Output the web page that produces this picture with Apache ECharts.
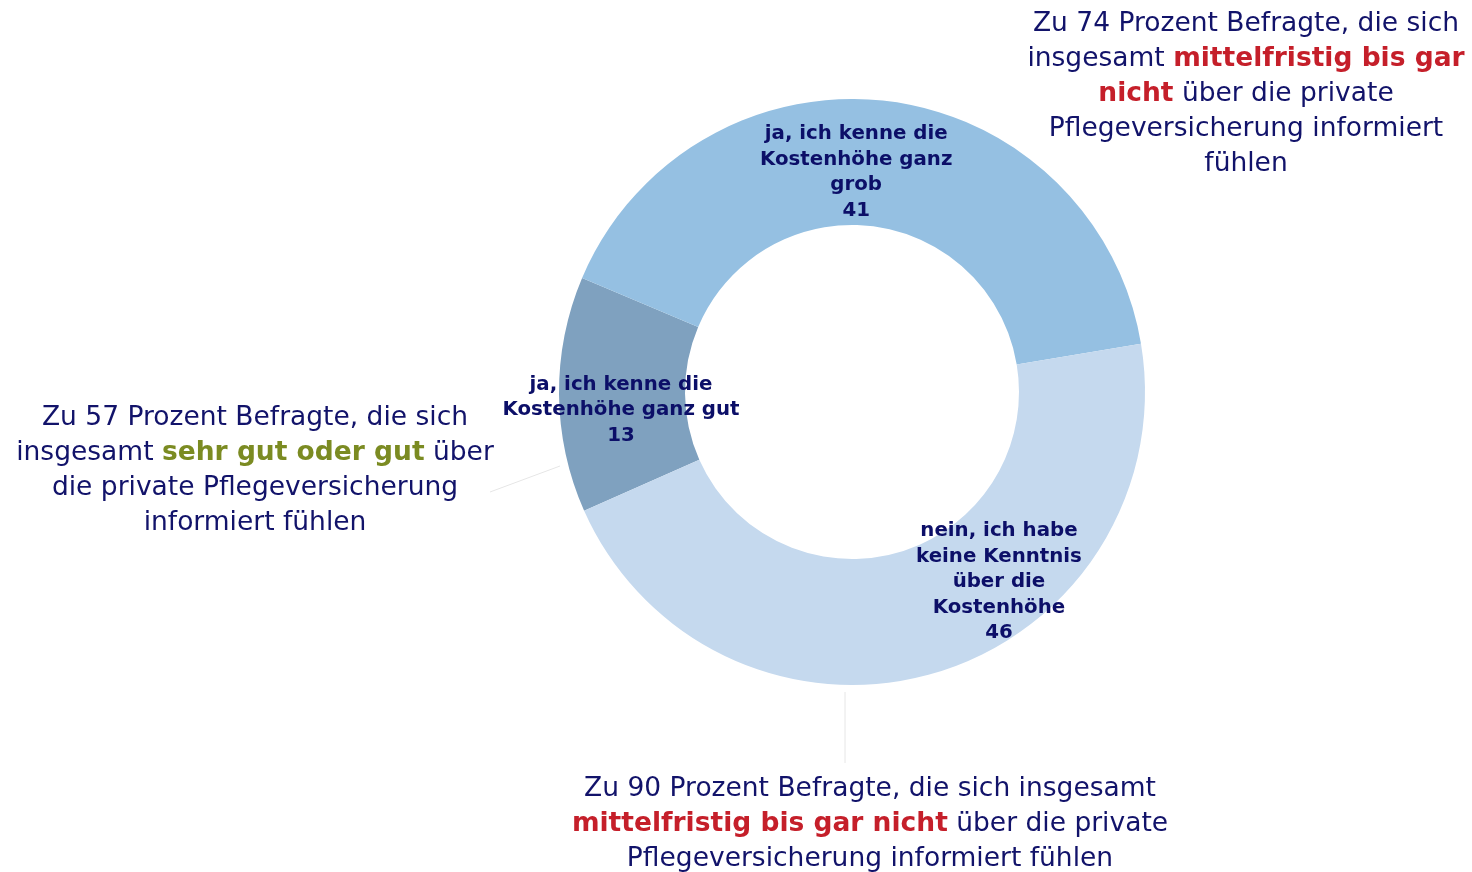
<!DOCTYPE html>
<html>
<head>
<meta charset="utf-8">
<script src="https://cdn.jsdelivr.net/npm/echarts@6/dist/echarts.min.js"></script>
<style>
  html, body { margin: 0; padding: 0; background: #fff; }
  #chart { width: 1472px; height: 872px; }
</style>
</head>
<body>
<div id="chart"></div>
<script>
// data
const categories = [
  "ja, ich kenne die\nKostenhöhe ganz gut",
  "ja, ich kenne die\nKostenhöhe ganz\ngrob",
  "nein, ich habe\nkeine Kenntnis\nüber die\nKostenhöhe"
];
const values = [13, 41, 46];
const colors = ["#7fa1bf", "#95c0e2", "#c5d9ee"];
// label nudges away from the ring middle
const labelShift = [[2, 16], [-23, 12], [80, -33]];

const navy = "#12136a";
const font = "DejaVu Sans";

var chart = echarts.init(document.getElementById("chart"));

function note(x, y, text) {
  let base = { fontFamily: font, fontSize: 26.5, lineHeight: 35 };
  let rich = {
    n: Object.assign({ fill: navy }, base),
    r: Object.assign({ fill: "#c51f2a", fontWeight: "bold" }, base),
    g: Object.assign({ fill: "#7b8b22", fontWeight: "bold" }, base)
  };
  return {
    type: "text",
    x: x,
    y: y,
    style: {
      text: text,
      rich: rich,
      fill: navy,
      align: "center",
      verticalAlign: "top"
    }
  };
}

var option = {
  animation: false,
  series: [
    {
      type: "pie",
      center: [852, 392],
      radius: [167, 293],
      startAngle: 203.9,
      clockwise: true,
      silent: true,
      data: values.map((v, i) => ({
        name: categories[i],
        value: v,
        itemStyle: { color: colors[i] }
      })),
      label: {
        position: "inside",
        formatter: "{b}\n{c}",
        fontFamily: font,
        fontWeight: "bold",
        fontSize: 19.8,
        lineHeight: 25.5,
        color: "#0c0f68",
        align: "center"
      },
      labelLine: { show: false },
      labelLayout: function (params) {
        let s = labelShift[params.dataIndex];
        return { dx: s[0], dy: s[1] };
      }
    }
  ],
  graphic: [
    { type: "line", shape: { x1: 490, y1: 492, x2: 560, y2: 466 }, style: { stroke: "#e6e6e6", lineWidth: 1 } },
    { type: "line", shape: { x1: 845, y1: 692, x2: 845, y2: 763 }, style: { stroke: "#e6e6e6", lineWidth: 1 } },
    note(1246, 7,
      "{n|Zu 74 Prozent Befragte, die sich}\n" +
      "{n|insgesamt }{r|mittelfristig bis gar}\n" +
      "{r|nicht}{n| über die private}\n" +
      "{n|Pflegeversicherung informiert}\n" +
      "{n|fühlen}"),
    note(255, 401,
      "{n|Zu 57 Prozent Befragte, die sich}\n" +
      "{n|insgesamt }{g|sehr gut oder gut}{n| über}\n" +
      "{n|die private Pflegeversicherung}\n" +
      "{n|informiert fühlen}"),
    note(870, 772,
      "{n|Zu 90 Prozent Befragte, die sich insgesamt}\n" +
      "{r|mittelfristig bis gar nicht}{n| über die private}\n" +
      "{n|Pflegeversicherung informiert fühlen}")
  ]
};

chart.setOption(option);
</script>
</body>
</html>
